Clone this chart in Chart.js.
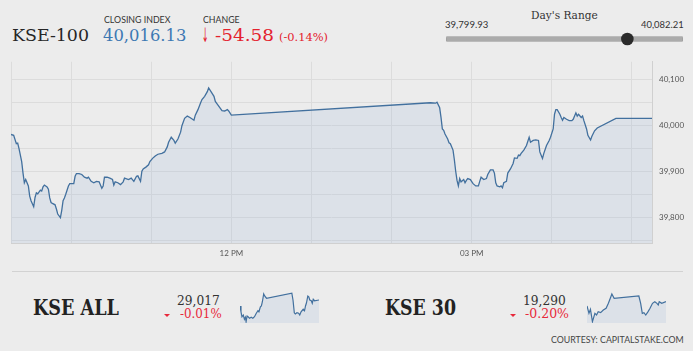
<!DOCTYPE html>
<html><head><meta charset="utf-8">
<script src="https://cdn.jsdelivr.net/npm/chart.js@4.4.0/dist/chart.umd.min.js"></script>
<style>
html,body{margin:0;padding:0;background:#fff;}
#wrap{position:relative;width:693px;height:351px;background:#ececec;overflow:hidden;}
.t{position:absolute;white-space:nowrap;line-height:1.2;left:0;top:0;}
canvas{position:absolute;}
.serif{font-family:"DejaVu Serif",serif;}
.sans{font-family:Lato,sans-serif;}
.tri{position:absolute;width:0;height:0;border-left:3px solid transparent;border-right:3px solid transparent;border-top:3.5px solid #e8293b;}
</style></head><body>
<div id="wrap">
  <canvas id="main" width="696" height="215" style="left:0;top:50px"></canvas>
  <canvas id="range" width="250" height="16" style="left:440px;top:31px"></canvas>
  <canvas id="sparkAll" width="79" height="33" style="left:240px;top:290px"></canvas>
  <canvas id="spark30" width="79" height="33" style="left:587px;top:290px"></canvas>

  <div class="t serif" data-x="12" data-y="41" data-w="77" style="font-size:17.5px;color:#262626">KSE-100</div>
  <div class="t sans" data-x="104" data-y="22.7" data-w="66.4" style="font-size:8.5px;color:#333">CLOSING INDEX</div>
  <div class="t serif" id="hClose" data-x="103.3" data-y="41" data-w="83.4" style="font-size:16.5px;color:#3d78b3"></div>
  <div class="t sans" data-x="202.7" data-y="22.7" data-w="36.6" style="font-size:8.5px;color:#333">CHANGE</div>
  <div class="t" data-x="202.3" data-y="41.5" data-w="6.5" style="font-family:'DejaVu Sans';font-size:20px;color:#e4222e">↓</div>
  <div class="t serif" id="hChg" data-x="215" data-y="41" data-w="59" style="font-size:16.5px;color:#e4222e"></div>
  <div class="t serif" id="hPct" data-x="279.3" data-y="41" data-w="49" style="font-size:11px;color:#e4222e"></div>

  <div class="t serif" data-x="564.3" data-a="c" data-y="19.3" data-w="66.7" style="font-size:10.5px;color:#333">Day's Range</div>
  <div class="t sans" id="rLow" data-x="445" data-y="28.3" data-w="43.3" style="font-size:9.5px;color:#333"></div>
  <div class="t sans" id="rHigh" data-x="683.3" data-a="r" data-y="28.3" data-w="42.6" style="font-size:9.5px;color:#333"></div>

  <div style="position:absolute;left:12px;top:271px;width:671px;height:1px;background:#d2d2d2"></div>

  <div class="t serif" data-x="33.3" data-y="315" data-w="86" style="font-size:21.5px;font-weight:bold;color:#222">KSE ALL</div>
  <div class="t serif" id="allVal" data-x="176.7" data-y="305" data-w="42.7" style="font-size:13px;color:#333"></div>
  <div class="t serif" id="allPct" data-x="180" data-y="318.3" data-w="41.7" style="font-size:12px;color:#e8293b"></div>
  <div class="tri" style="left:163.5px;top:314px"></div>

  <div class="t serif" data-x="385" data-y="315" data-w="71" style="font-size:21.5px;font-weight:bold;color:#222">KSE 30</div>
  <div class="t serif" id="k30Val" data-x="523.3" data-y="305" data-w="42.7" style="font-size:13px;color:#333"></div>
  <div class="t serif" id="k30Pct" data-x="525" data-y="318.3" data-w="44" style="font-size:12px;color:#e8293b"></div>
  <div class="tri" style="left:509.5px;top:314px"></div>

  <div class="t sans" data-x="550.7" data-y="342.7" data-w="132.6" style="font-size:8.5px;color:#444">COURTESY: CAPITALSTAKE.COM</div>
</div>
<script>
// ---------- data ----------
const closeIndex = 40016.13, change = -54.58, changePct = -0.14;
const dayLow = 39799.93, dayHigh = 40082.21;
const kseAllClose = 29017, kseAllPct = -0.01;
const kse30Close = 19290, kse30Pct = -0.20;

const mainTimes = ["09:15","09:17","09:19","09:20","09:21","09:23","09:24","09:25","09:26","09:28","09:29","09:30","09:32","09:33","09:34","09:35","09:37","09:38","09:39","09:40","09:42","09:43","09:44","09:45","09:46","09:48","09:49","09:50","09:52","09:53","09:54","09:55","09:56","09:58","09:59","10:02","10:03","10:04","10:06","10:08","10:10","10:12","10:13","10:15","10:17","10:19","10:21","10:23","10:24","10:25","10:27","10:29","10:31","10:32","10:33","10:35","10:37","10:39",
"10:40","10:43","10:45","10:47","10:49","10:50","10:52","10:53","10:54","10:56","10:58","10:59","11:01","11:03","11:05","11:08","11:10","11:12","11:13","11:15","11:17","11:18","11:20","11:22","11:23","11:25","11:27","11:29","11:32","11:33","11:35","11:37","11:38","11:40","11:42","11:43","11:45","11:47","11:48","11:50","11:53","11:55","11:57","11:58","12:00",
"14:29","14:33","14:34","14:36","14:37","14:38","14:39","14:40","14:42","14:43","14:44","14:46","14:47","14:48","14:49","14:50","14:51","14:52","14:54","14:55","14:56","14:57","14:59","15:01","15:03","15:05","15:06","15:07","15:09","15:11","15:12","15:14","15:16","15:17","15:18","15:19","15:21","15:22","15:23","15:24","15:26","15:27","15:29","15:31","15:32","15:34","15:35","15:36","15:37","15:39","15:41","15:43","15:44","15:46",
"15:48","15:50","15:51","15:52","15:53","15:54","15:56","15:58","15:59","16:01","16:02","16:03","16:04","16:06","16:07","16:08","16:09","16:11","16:13","16:15","16:16","16:18","16:19","16:20","16:22","16:23","16:24","16:26","16:27","16:29","16:30","16:32","16:34","16:48","17:15"];
const mainValues = [39981,39979,39961,39962,39950,39922,39897,39876,39883,39869,39847,39837,39824,39844,39854,39852,39860,39858,39867,39871,39867,39862,39843,39833,39831,39828,39819,39808,39800,39816,39837,39843,39851,39869,39874,39874,39890,39896,39896,39894,39888,39886,39888,39879,39876,39879,39878,39864,39869,39888,39888,39886,39883,39871,39878,39876,39872,39878,
39886,39883,39886,39879,39890,39891,39879,39901,39906,39910,39915,39922,39929,39934,39938,39940,39943,39954,39964,39975,39968,39962,39971,39986,40000,40016,40021,40018,40012,40023,40035,40050,40057,40064,40074,40082,40073,40064,40053,40045,40033,40032,40035,40032,40023,
40050,40049,40051,40039,40018,39993,39990,39982,39971,39963,39961,39947,39926,39901,39881,39869,39885,39878,39883,39876,39881,39885,39883,39874,39869,39869,39879,39888,39883,39885,39894,39904,39904,39897,39876,39869,39867,39869,39865,39876,39879,39897,39906,39918,39930,39929,39936,39935,39940,39947,39957,39975,39964,39968,
39969,39968,39943,39936,39929,39940,39957,39968,39975,39993,40025,40035,40035,40025,40018,40012,40018,40014,40011,40011,40014,40028,40021,40025,40018,40021,40011,39993,39979,39969,39977,39989,39995,40016,40016];

const xGridTimes = ["09:15","10:00","11:00","12:00","13:00","14:00","15:00","16:00","17:00"];
const xTickTimes = ["12:00","15:00"];
const xTickLabels = ["12 PM","03 PM"];
const yGridValues = [39750,39800,39850,39900,39950,40000,40050,40100];
const yTickValues = [39800,39900,40000,40100];

const allTimes = ["09:15","09:21","09:27","09:35","09:42","09:48","09:52","09:58","10:04","10:13","10:23","10:33","10:43","10:54","11:04","11:10","11:19","11:25","11:31","11:39","11:45","11:56","14:30","14:37","14:45","14:51","15:01","15:11","15:18","15:26","15:39","15:47","15:53","15:59","16:07","16:13","16:19","16:28","16:34","16:40","16:48","17:15"];
const allValues = [28993,28970,28950,28957,28940,28948,28930,28953,28950,28944,28948,28944,28950,28964,28974,28970,28990,28993,29010,29041,29033,29024,29044,29017,28966,28961,28966,28964,28957,28970,28980,28974,28993,29006,29033,29030,29017,29014,29004,29020,29014,29017];
const k30Times = ["09:15","09:27","09:36","09:48","10:03","10:13","10:23","10:38","10:54","11:11","11:25","11:40","11:46","12:00","14:30","14:41","14:51","15:01","15:12","15:26","15:38","15:53","16:07","16:20","16:28","16:34","16:49","17:15"];
const k30Values = [19277,19255,19267,19230,19255,19250,19260,19257,19265,19270,19285,19305,19313,19300,19307,19285,19255,19257,19250,19260,19270,19285,19290,19285,19280,19290,19285,19290];

// ---------- helpers ----------
const tmin = s => { const [h, m] = s.split(':').map(Number); return h * 60 + m; };
const fmt2 = v => Math.abs(v).toLocaleString('en-US', {minimumFractionDigits: 2, maximumFractionDigits: 2});
const LINE = '#42709e', FILL = 'rgba(150,180,215,0.18)';
const noUI = {legend: {display: false}, tooltip: {enabled: false}};

document.getElementById('hClose').textContent = closeIndex.toLocaleString('en-US', {minimumFractionDigits: 2});
document.getElementById('hChg').textContent = (change < 0 ? '-' : '+') + fmt2(change);
document.getElementById('hPct').textContent = '(' + (changePct < 0 ? '-' : '+') + fmt2(changePct) + '%)';
document.getElementById('rLow').textContent = dayLow.toLocaleString('en-US', {minimumFractionDigits: 2});
document.getElementById('rHigh').textContent = dayHigh.toLocaleString('en-US', {minimumFractionDigits: 2});
document.getElementById('allVal').textContent = kseAllClose.toLocaleString('en-US');
document.getElementById('allPct').textContent = (kseAllPct < 0 ? '-' : '+') + fmt2(kseAllPct) + '%';
document.getElementById('k30Val').textContent = kse30Close.toLocaleString('en-US');
document.getElementById('k30Pct').textContent = (kse30Pct < 0 ? '-' : '+') + fmt2(kse30Pct) + '%';

// ---------- main chart ----------
const xMin = tmin("09:15"), xMax = tmin("17:15");
new Chart(document.getElementById('main'), {
  type: 'line',
  data: {datasets: [{
    data: mainTimes.map((t, i) => ({x: tmin(t), y: mainValues[i]})),
    borderColor: LINE, borderWidth: 1.3, backgroundColor: FILL, fill: 'start',
    pointRadius: 0, tension: 0
  }]},
  options: {
    responsive: false, animation: false, events: [], plugins: noUI,
    layout: {padding: {left: 11, top: 8, right: 0, bottom: 0}},
    scales: {
      x: {
        type: 'linear', min: xMin, max: xMax,
        afterBuildTicks: s => { s.ticks = xGridTimes.map(t => ({value: tmin(t)})); },
        afterFit: s => { s.height = 22; },
        grid: {color: '#dcdcdc', drawTicks: false},
        border: {color: '#d0d0d0'},
        ticks: {autoSkip: false, maxRotation: 0, padding: 6, color: '#555',
          font: {family: 'Lato', size: 8},
          callback: v => { const i = xTickTimes.map(tmin).indexOf(v); return i >= 0 ? xTickLabels[i] : ''; }}
      },
      y: {
        position: 'right', min: 39745, max: 40139,
        afterBuildTicks: s => { s.ticks = yGridValues.map(v => ({value: v})); },
        afterFit: s => { s.width = 44; },
        grid: {color: '#dcdcdc', drawTicks: false},
        border: {color: '#d0d0d0'},
        ticks: {autoSkip: false, padding: 7, color: '#555', font: {family: 'Lato', size: 8},
          callback: v => yTickValues.includes(v) ? v.toLocaleString('en-US') : ''}
      }
    }
  }
});

// ---------- day's range ----------
new Chart(document.getElementById('range'), {
  type: 'line',
  data: {datasets: [
    {data: [{x: closeIndex, y: 0}], showLine: false, pointRadius: 6.3, pointBackgroundColor: '#2b2b2b', pointBorderWidth: 0, clip: false},
    {data: [{x: dayLow, y: 0}, {x: dayHigh, y: 0}], borderColor: '#ababab', borderWidth: 5.5, pointRadius: 0, borderCapStyle: 'butt', clip: false}
  ]},
  options: {
    responsive: false, animation: false, events: [], plugins: noUI,
    layout: {padding: {left: 5.7, right: 7.3, top: 0, bottom: 0}},
    scales: {
      x: {type: 'linear', min: dayLow, max: dayHigh,
        afterBuildTicks: s => { s.ticks = [dayLow, (dayLow + dayHigh) / 2, dayHigh].map(v => ({value: v})); },
        afterFit: s => { s.height = 0; },
        ticks: {display: false}, grid: {color: '#8c8c8c', drawTicks: false}, border: {display: false}},
      y: {display: false, min: -1, max: 1}
    }
  }
});

// ---------- sparklines ----------
function spark(id, times, vals, min, max) {
  new Chart(document.getElementById(id), {
    type: 'line',
    data: {datasets: [{data: times.map((t, i) => ({x: tmin(t), y: vals[i]})),
      borderColor: LINE, borderWidth: 1.2, backgroundColor: FILL, fill: 'start', pointRadius: 0, tension: 0}]},
    options: {responsive: false, animation: false, events: [], plugins: noUI,
      scales: {x: {type: 'linear', display: false, min: xMin, max: xMax}, y: {display: false, min: min, max: max}}}
  });
}
spark('sparkAll', allTimes, allValues, 28925, 29057);
spark('spark30', k30Times, k30Values, 19226, 19325);

// ---------- text placement by baseline ----------
function placeAll() {
  document.querySelectorAll('.t').forEach(el => {
    const m = document.createElement('span');
    m.style.cssText = 'display:inline-block;width:0;height:0;vertical-align:baseline;';
    el.appendChild(m);
    const base = m.offsetTop;
    const w = el.getBoundingClientRect().width;
    const tw = el.dataset.w ? +el.dataset.w : w;
    const sx = tw / w;
    const a = el.dataset.a || 'l';
    const x = +el.dataset.x;
    const left = a === 'c' ? x - tw / 2 : a === 'r' ? x - tw : x;
    el.style.left = left + 'px';
    el.style.top = (+el.dataset.y - base) + 'px';
    el.style.transformOrigin = '0 0';
    el.style.transform = 'scaleX(' + sx + ')';
  });
}
placeAll();
</script>
</body></html>
